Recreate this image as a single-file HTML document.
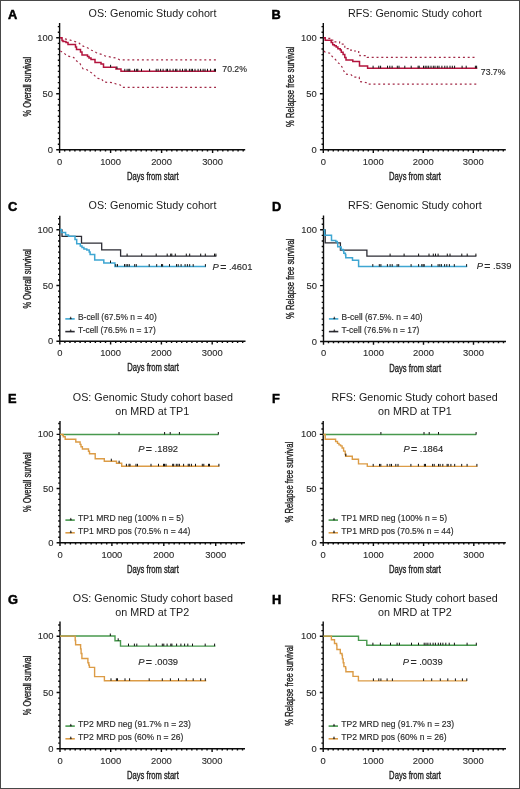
<!DOCTYPE html>
<html><head><meta charset="utf-8"><title>Kaplan-Meier survival: Genomic Study cohort</title>
<style>
html,body{margin:0;padding:0;background:#fff;}
body{width:520px;height:789px;overflow:hidden;}
#fig{position:absolute;left:0;top:0;width:518px;height:787px;border:1px solid #484848;}
svg{position:absolute;left:0;top:0;will-change:transform;font-family:"Liberation Sans", sans-serif;}
</style></head>
<body>
<div id="fig"></div>
<svg width="520" height="789" viewBox="0 0 520 789">
<path d="M59.6 23V153M56.2 149.8H245.2M57.8 144.2H59.6M57.8 138.6H59.6M57.8 133H59.6M57.8 127.4H59.6M57.8 121.8H59.6M57.8 116.2H59.6M57.8 110.6H59.6M57.8 105H59.6M57.8 99.4H59.6M56.2 93.8H59.6M57.8 88.2H59.6M57.8 82.6H59.6M57.8 77H59.6M57.8 71.4H59.6M57.8 65.8H59.6M57.8 60.2H59.6M57.8 54.6H59.6M57.8 49H59.6M57.8 43.4H59.6M56.2 37.8H59.6M57.8 32.2H59.6M57.8 26.6H59.6M64.7 149.8V151.6M69.8 149.8V151.6M74.9 149.8V151.6M80 149.8V151.6M85.1 149.8V151.6M90.2 149.8V151.6M95.3 149.8V151.6M100.4 149.8V151.6M105.5 149.8V151.6M110.6 149.8V153M115.7 149.8V151.6M120.8 149.8V151.6M125.9 149.8V151.6M131 149.8V151.6M136.1 149.8V151.6M141.2 149.8V151.6M146.3 149.8V151.6M151.4 149.8V151.6M156.5 149.8V151.6M161.6 149.8V153M166.7 149.8V151.6M171.8 149.8V151.6M176.9 149.8V151.6M182 149.8V151.6M187.1 149.8V151.6M192.2 149.8V151.6M197.3 149.8V151.6M202.4 149.8V151.6M207.5 149.8V151.6M212.6 149.8V153M217.7 149.8V151.6M222.8 149.8V151.6M227.9 149.8V151.6M233 149.8V151.6M238.1 149.8V151.6M243.2 149.8V151.6" stroke="#0c0c0c" stroke-width="1.4" fill="none"/>
<g font-size="9.4" fill="#2b2b2b" stroke="#2b2b2b" stroke-width="0.12"><text x="53" y="152.8" text-anchor="end">0</text><text x="53" y="96.8" text-anchor="end">50</text><text x="53" y="40.8" text-anchor="end">100</text><text x="59.6" y="164.6" text-anchor="middle">0</text><text x="110.6" y="164.6" text-anchor="middle">1000</text><text x="161.6" y="164.6" text-anchor="middle">2000</text><text x="212.6" y="164.6" text-anchor="middle">3000</text></g>
<text transform="translate(152.8 179.8) scale(0.75 1)" text-anchor="middle" font-size="10.2" fill="#222" stroke="#222" stroke-width="0.35">Days from start</text>
<text transform="translate(30.7 86.7) rotate(-90) scale(0.732 1)" text-anchor="middle" font-size="10.2" fill="#222" stroke="#222" stroke-width="0.35">% Overall survival</text>
<text x="7.9" y="19" font-size="12.8" font-weight="bold" fill="#000" stroke="#000" stroke-width="0.5">A</text>
<text x="152.5" y="16.9" font-size="10.75" text-anchor="middle" fill="#1a1a1a">OS: Genomic Study cohort</text>
<path d="M60.3 37.7L63.7 38.7L67.5 39.5L70.4 40.2L75.2 41.6L79.1 43.1L81.5 45.5L83.9 46.4L86.8 47.4L89.2 48.8L91.6 50.3L94.5 51.2L96.4 52.7L98.3 53.6L102.2 54.6L105 56L116 58L119.8 59.8L216 59.8" stroke="#a32a47" stroke-width="1.2" fill="none" stroke-dasharray="2 2.8"/>
<path d="M60.3 51L61.8 51.7L63.7 52.7L65.6 54.6L67.5 56L71.4 57L73.8 57.5L75.2 59.9L77.6 61.8L79.6 62.8L80.5 64.5L82.9 68.7L86.7 69.6L89.6 71.5L92.5 73.5L94.9 75.9L97.3 78.3L101.6 78.8L103.6 82.1L112.7 82.6L116.1 84L120.4 85L122.3 87.3L216 87.3" stroke="#a32a47" stroke-width="1.2" fill="none" stroke-dasharray="2 2.8"/>
<path d="M60 37.7H62V40.5H63V41.5H66V42.5H68V44.5H75.5V47H76.5V49.5H80.5V52H82V55H87.5V56.5H89V58H91V59.5H95V62.5H101V64H103.5V67.3H116V69H121V71.3H216" stroke="#b3143d" stroke-width="1.5" fill="none"/>
<path d="M110.6 67.3V64.8M117 69V66.5M124.8 71.3V68.8M127.1 71.3V68.8M128.8 71.3V68.8M129.8 71.3V68.8M134.6 71.3V68.8M136.7 71.3V68.8M137.8 71.3V68.8M141.5 71.3V68.8M149.6 71.3V68.8M156.2 71.3V68.8M158.1 71.3V68.8M160.6 71.3V68.8M163.1 71.3V68.8M166.2 71.3V68.8M167.5 71.3V68.8M170 71.3V68.8M173.1 71.3V68.8M175.6 71.3V68.8M176.9 71.3V68.8M180 71.3V68.8M182.5 71.3V68.8M185 71.3V68.8M186.2 71.3V68.8M189.4 71.3V68.8M191.2 71.3V68.8M192.5 71.3V68.8M195 71.3V68.8M198.1 71.3V68.8M200.6 71.3V68.8M203.1 71.3V68.8M205 71.3V68.8M207.5 71.3V68.8M210.6 71.3V68.8M214.4 71.3V68.8M215.5 71.3V68.8" stroke="#111" stroke-width="1.0" fill="none"/>
<text x="222.3" y="71.6" font-size="8.7" text-anchor="start" fill="#2b2b2b" stroke="#2b2b2b" stroke-width="0.15">70.2%</text>
<path d="M323.3 23V153M319.9 149.8H505.8M321.5 144.2H323.3M321.5 138.6H323.3M321.5 133H323.3M321.5 127.4H323.3M321.5 121.8H323.3M321.5 116.2H323.3M321.5 110.6H323.3M321.5 105H323.3M321.5 99.4H323.3M319.9 93.8H323.3M321.5 88.2H323.3M321.5 82.6H323.3M321.5 77H323.3M321.5 71.4H323.3M321.5 65.8H323.3M321.5 60.2H323.3M321.5 54.6H323.3M321.5 49H323.3M321.5 43.4H323.3M319.9 37.8H323.3M321.5 32.2H323.3M321.5 26.6H323.3M328.3 149.8V151.6M333.3 149.8V151.6M338.3 149.8V151.6M343.3 149.8V151.6M348.3 149.8V151.6M353.3 149.8V151.6M358.3 149.8V151.6M363.3 149.8V151.6M368.3 149.8V151.6M373.3 149.8V153M378.3 149.8V151.6M383.3 149.8V151.6M388.3 149.8V151.6M393.3 149.8V151.6M398.3 149.8V151.6M403.3 149.8V151.6M408.3 149.8V151.6M413.3 149.8V151.6M418.3 149.8V151.6M423.3 149.8V153M428.3 149.8V151.6M433.3 149.8V151.6M438.3 149.8V151.6M443.3 149.8V151.6M448.3 149.8V151.6M453.3 149.8V151.6M458.3 149.8V151.6M463.3 149.8V151.6M468.3 149.8V151.6M473.3 149.8V153M478.3 149.8V151.6M483.3 149.8V151.6M488.3 149.8V151.6M493.3 149.8V151.6M498.3 149.8V151.6M503.3 149.8V151.6" stroke="#0c0c0c" stroke-width="1.4" fill="none"/>
<g font-size="9.4" fill="#2b2b2b" stroke="#2b2b2b" stroke-width="0.12"><text x="316.7" y="152.8" text-anchor="end">0</text><text x="316.7" y="96.8" text-anchor="end">50</text><text x="316.7" y="40.8" text-anchor="end">100</text><text x="323.3" y="164.6" text-anchor="middle">0</text><text x="373.3" y="164.6" text-anchor="middle">1000</text><text x="423.3" y="164.6" text-anchor="middle">2000</text><text x="473.3" y="164.6" text-anchor="middle">3000</text></g>
<text transform="translate(414.95 179.8) scale(0.75 1)" text-anchor="middle" font-size="10.2" fill="#222" stroke="#222" stroke-width="0.35">Days from start</text>
<text transform="translate(293.5 86.7) rotate(-90) scale(0.752 1)" text-anchor="middle" font-size="10.2" fill="#222" stroke="#222" stroke-width="0.35">% Relapse free survival</text>
<text x="271.6" y="19" font-size="12.8" font-weight="bold" fill="#000" stroke="#000" stroke-width="0.5">B</text>
<text x="414.9" y="16.9" font-size="10.75" text-anchor="middle" fill="#1a1a1a">RFS: Genomic Study cohort</text>
<path d="M324 37.8H326.9V38.3H331.5V40.1H335V41.8H339.6V43H341.3V44.1H343.1V46.4H344.8V48.7H350V50.2H353.5V51H358.7V52.5H359.8V55.7H366.2V56H367.3V57.3H477.3" stroke="#a32a47" stroke-width="1.2" fill="none" stroke-dasharray="2 2.8"/>
<path d="M324 51L325.2 52.2L330.4 53.3L331.5 55.7L333.8 58L335.6 59.7L337.9 62.6L340.2 64.3L342.5 67.8L343.7 70.7L345.4 74.1L351.2 74.7L352.9 77L359.2 77.2L359.8 81.6L367.3 82.8L367.9 84.2L477.3 84.2" stroke="#a32a47" stroke-width="1.2" fill="none" stroke-dasharray="2 2.8"/>
<path d="M323.6 37.8H325.2V40.2H331.2V42.4H332.7V44.7H334.4V45.8H336.2V47H337.9V48.7H340.2V49.9H341.3V52.2H343.1V54.5H344.8V57.4H346V59.9H352.8V61.6H359.5V66H367.6V68.2H477.3" stroke="#b3143d" stroke-width="1.5" fill="none"/>
<path d="M373.1 68.2V65.7M378.8 68.2V65.7M380.6 68.2V65.7M387.5 68.2V65.7M389.8 68.2V65.7M392.1 68.2V65.7M397.3 68.2V65.7M399 68.2V65.7M404.8 68.2V65.7M411.2 68.2V65.7M418.1 68.2V65.7M419.2 68.2V65.7M423.5 68.2V65.7M425.2 68.2V65.7M426.9 68.2V65.7M428.7 68.2V65.7M431 68.2V65.7M433.3 68.2V65.7M435 68.2V65.7M437.3 68.2V65.7M439 68.2V65.7M441.9 68.2V65.7M444.8 68.2V65.7M447.1 68.2V65.7M450 68.2V65.7M452.3 68.2V65.7M454.6 68.2V65.7M462.1 68.2V65.7M466.2 68.2V65.7M475.4 68.2V65.7M476.6 68.2V65.7" stroke="#111" stroke-width="1.0" fill="none"/>
<text x="480.8" y="74.8" font-size="8.7" text-anchor="start" fill="#2b2b2b" stroke="#2b2b2b" stroke-width="0.15">73.7%</text>
<path d="M59.8 215.7V344.5M56.4 341.3H245.5M58 335.73H59.8M58 330.15H59.8M58 324.57H59.8M58 319H59.8M58 313.43H59.8M58 307.85H59.8M58 302.28H59.8M58 296.7H59.8M58 291.12H59.8M56.4 285.55H59.8M58 279.98H59.8M58 274.4H59.8M58 268.83H59.8M58 263.25H59.8M58 257.68H59.8M58 252.1H59.8M58 246.53H59.8M58 240.95H59.8M58 235.38H59.8M56.4 229.8H59.8M58 224.23H59.8M58 218.65H59.8M64.88 341.3V343.1M69.96 341.3V343.1M75.04 341.3V343.1M80.12 341.3V343.1M85.2 341.3V343.1M90.28 341.3V343.1M95.36 341.3V343.1M100.44 341.3V343.1M105.52 341.3V343.1M110.6 341.3V344.5M115.68 341.3V343.1M120.76 341.3V343.1M125.84 341.3V343.1M130.92 341.3V343.1M136 341.3V343.1M141.08 341.3V343.1M146.16 341.3V343.1M151.24 341.3V343.1M156.32 341.3V343.1M161.4 341.3V344.5M166.48 341.3V343.1M171.56 341.3V343.1M176.64 341.3V343.1M181.72 341.3V343.1M186.8 341.3V343.1M191.88 341.3V343.1M196.96 341.3V343.1M202.04 341.3V343.1M207.12 341.3V343.1M212.2 341.3V344.5M217.28 341.3V343.1M222.36 341.3V343.1M227.44 341.3V343.1M232.52 341.3V343.1M237.6 341.3V343.1M242.68 341.3V343.1" stroke="#0c0c0c" stroke-width="1.4" fill="none"/>
<g font-size="9.4" fill="#2b2b2b" stroke="#2b2b2b" stroke-width="0.12"><text x="53.2" y="344.3" text-anchor="end">0</text><text x="53.2" y="288.55" text-anchor="end">50</text><text x="53.2" y="232.8" text-anchor="end">100</text><text x="59.8" y="356.1" text-anchor="middle">0</text><text x="110.6" y="356.1" text-anchor="middle">1000</text><text x="161.4" y="356.1" text-anchor="middle">2000</text><text x="212.2" y="356.1" text-anchor="middle">3000</text></g>
<text transform="translate(153.05 371.3) scale(0.75 1)" text-anchor="middle" font-size="10.2" fill="#222" stroke="#222" stroke-width="0.35">Days from start</text>
<text transform="translate(30.9 278.8) rotate(-90) scale(0.732 1)" text-anchor="middle" font-size="10.2" fill="#222" stroke="#222" stroke-width="0.35">% Overall survival</text>
<text x="8.1" y="211.4" font-size="12.8" font-weight="bold" fill="#000" stroke="#000" stroke-width="0.5">C</text>
<text x="152.5" y="209.1" font-size="10.75" text-anchor="middle" fill="#1a1a1a">OS: Genomic Study cohort</text>
<path d="M60 229.8H62V236.3H81.5V243.2H101.7V249.8H120.6V256.1H216.4" stroke="#2c2c34" stroke-width="1.3" fill="none"/>
<path d="M127.1 256.1V253.6M141.7 256.1V253.6M156.2 256.1V253.6M167.2 256.1V253.6M170.7 256.1V253.6M171.8 256.1V253.6M175.3 256.1V253.6M186.3 256.1V253.6M189.7 256.1V253.6M200.7 256.1V253.6M205.3 256.1V253.6M214.5 256.1V253.6M215.9 256.1V253.6" stroke="#111" stroke-width="1.0" fill="none"/>
<path d="M59.8 229.5H61.3V232.4H65.6V235H68.5V236.2H75V239.4H76.7V243.7H80.3V246.1H82V247.6H83.9V249H86.8V250H89.2V251.9H90.1V254.5H94.7V260H103.8V263H114.9V266.6H206" stroke="#3ea6d2" stroke-width="1.5" fill="none"/>
<path d="M110.5 263V260.5M115.8 266.6V264.1M117.5 266.6V264.1M124.5 266.6V264.1M126.1 266.6V264.1M127.7 266.6V264.1M129.3 266.6V264.1M134.7 266.6V264.1M136.3 266.6V264.1M149.2 266.6V264.1M156.7 266.6V264.1M161.5 266.6V264.1M162.6 266.6V264.1M169.5 266.6V264.1M176.5 266.6V264.1M178.2 266.6V264.1M181.1 266.6V264.1M185.1 266.6V264.1M187.4 266.6V264.1M189.7 266.6V264.1M193.2 266.6V264.1M205.4 266.6V264.1" stroke="#111" stroke-width="1.0" fill="none"/>
<text y="269.8" font-size="9.4" fill="#2b2b2b" stroke="#2b2b2b" stroke-width="0.15"><tspan x="212.6" font-style="italic">P</tspan><tspan x="220.2" font-size="10.6" dy="0.9">=</tspan><tspan x="229" dy="-0.9">.4601</tspan></text>
<path d="M65.3 318.9H74.7" stroke="#3ea6d2" stroke-width="1.6"/>
<path d="M69.9 318.9L70.7 316.7L71.5 318.9Z" fill="#222" stroke="#222" stroke-width="0.4"/>
<text x="78" y="319.9" font-size="8.42" text-anchor="start" fill="#2b2b2b" stroke="#2b2b2b" stroke-width="0.15">B-cell (67.5% n = 40)</text>
<path d="M65.3 331.6H74.7" stroke="#2c2c34" stroke-width="1.6"/>
<path d="M69.9 331.6L70.7 329.4L71.5 331.6Z" fill="#222" stroke="#222" stroke-width="0.4"/>
<text x="78" y="332.6" font-size="8.42" text-anchor="start" fill="#2b2b2b" stroke="#2b2b2b" stroke-width="0.15">T-cell (76.5% n = 17)</text>
<path d="M323.5 215.5V344.7M320.1 341.5H506M321.7 335.92H323.5M321.7 330.33H323.5M321.7 324.75H323.5M321.7 319.16H323.5M321.7 313.57H323.5M321.7 307.99H323.5M321.7 302.4H323.5M321.7 296.82H323.5M321.7 291.24H323.5M320.1 285.65H323.5M321.7 280.06H323.5M321.7 274.48H323.5M321.7 268.89H323.5M321.7 263.31H323.5M321.7 257.73H323.5M321.7 252.14H323.5M321.7 246.56H323.5M321.7 240.97H323.5M321.7 235.38H323.5M320.1 229.8H323.5M321.7 224.22H323.5M321.7 218.63H323.5M328.5 341.5V343.3M333.5 341.5V343.3M338.5 341.5V343.3M343.5 341.5V343.3M348.5 341.5V343.3M353.5 341.5V343.3M358.5 341.5V343.3M363.5 341.5V343.3M368.5 341.5V343.3M373.5 341.5V344.7M378.5 341.5V343.3M383.5 341.5V343.3M388.5 341.5V343.3M393.5 341.5V343.3M398.5 341.5V343.3M403.5 341.5V343.3M408.5 341.5V343.3M413.5 341.5V343.3M418.5 341.5V343.3M423.5 341.5V344.7M428.5 341.5V343.3M433.5 341.5V343.3M438.5 341.5V343.3M443.5 341.5V343.3M448.5 341.5V343.3M453.5 341.5V343.3M458.5 341.5V343.3M463.5 341.5V343.3M468.5 341.5V343.3M473.5 341.5V344.7M478.5 341.5V343.3M483.5 341.5V343.3M488.5 341.5V343.3M493.5 341.5V343.3M498.5 341.5V343.3M503.5 341.5V343.3" stroke="#0c0c0c" stroke-width="1.4" fill="none"/>
<g font-size="9.4" fill="#2b2b2b" stroke="#2b2b2b" stroke-width="0.12"><text x="316.9" y="344.5" text-anchor="end">0</text><text x="316.9" y="288.65" text-anchor="end">50</text><text x="316.9" y="232.8" text-anchor="end">100</text><text x="323.5" y="356.3" text-anchor="middle">0</text><text x="373.5" y="356.3" text-anchor="middle">1000</text><text x="423.5" y="356.3" text-anchor="middle">2000</text><text x="473.5" y="356.3" text-anchor="middle">3000</text></g>
<text transform="translate(415.15 371.5) scale(0.75 1)" text-anchor="middle" font-size="10.2" fill="#222" stroke="#222" stroke-width="0.35">Days from start</text>
<text transform="translate(293.7 278.8) rotate(-90) scale(0.752 1)" text-anchor="middle" font-size="10.2" fill="#222" stroke="#222" stroke-width="0.35">% Relapse free survival</text>
<text x="271.9" y="211.4" font-size="12.8" font-weight="bold" fill="#000" stroke="#000" stroke-width="0.5">D</text>
<text x="414.9" y="209.1" font-size="10.75" text-anchor="middle" fill="#1a1a1a">RFS: Genomic Study cohort</text>
<path d="M323.5 229.8H325.2V242.9H340.4V250.1H366.9V256.1H476.4" stroke="#2c2c34" stroke-width="1.3" fill="none"/>
<path d="M390.1 256.1V253.6M404.1 256.1V253.6M418.6 256.1V253.6M429 256.1V253.6M433.3 256.1V253.6M435.5 256.1V253.6M438.1 256.1V253.6M447.3 256.1V253.6M450 256.1V253.6M461.8 256.1V253.6M467.2 256.1V253.6M475.9 256.1V253.6" stroke="#111" stroke-width="1.0" fill="none"/>
<path d="M323.5 229.9H324.6V235.2H331.5V240.5H335.8V241.5H337.3V242.8H337.7V246.7H340.8V247.5H341.2V249.4H343.1V250.6H343.8V253.2H345.4V254.8H345.8V257.8H352.5V260.3H358.6V266.6H467.2" stroke="#3ea6d2" stroke-width="1.5" fill="none"/>
<path d="M372.8 266.6V264.1M379.3 266.6V264.1M380.9 266.6V264.1M387.4 266.6V264.1M390.1 266.6V264.1M392.2 266.6V264.1M397.1 266.6V264.1M398.7 266.6V264.1M411.1 266.6V264.1M418.6 266.6V264.1M421.8 266.6V264.1M423.1 266.6V264.1M424.2 266.6V264.1M431.7 266.6V264.1M438.1 266.6V264.1M439.8 266.6V264.1M441.4 266.6V264.1M444.6 266.6V264.1M446.8 266.6V264.1M449.4 266.6V264.1M454.3 266.6V264.1M466.6 266.6V264.1" stroke="#111" stroke-width="1.0" fill="none"/>
<text y="268.6" font-size="9.4" fill="#2b2b2b" stroke="#2b2b2b" stroke-width="0.15"><tspan x="476.7" font-style="italic">P</tspan><tspan x="484.3" font-size="10.6" dy="0.9">=</tspan><tspan x="493.1" dy="-0.9">.539</tspan></text>
<path d="M328.9 318.9H338.3" stroke="#3ea6d2" stroke-width="1.6"/>
<path d="M333.5 318.9L334.3 316.7L335.1 318.9Z" fill="#222" stroke="#222" stroke-width="0.4"/>
<text x="341.6" y="319.9" font-size="8.42" text-anchor="start" fill="#2b2b2b" stroke="#2b2b2b" stroke-width="0.15">B-cell (67.5%. n = 40)</text>
<path d="M328.9 331.6H338.3" stroke="#2c2c34" stroke-width="1.6"/>
<path d="M333.5 331.6L334.3 329.4L335.1 331.6Z" fill="#222" stroke="#222" stroke-width="0.4"/>
<text x="341.6" y="332.6" font-size="8.42" text-anchor="start" fill="#2b2b2b" stroke="#2b2b2b" stroke-width="0.15">T-cell (76.5% n = 17)</text>
<path d="M60 421V545.9M56.6 542.7H245M58.2 537.29H60M58.2 531.87H60M58.2 526.46H60M58.2 521.04H60M58.2 515.62H60M58.2 510.21H60M58.2 504.8H60M58.2 499.38H60M58.2 493.97H60M56.6 488.55H60M58.2 483.14H60M58.2 477.72H60M58.2 472.31H60M58.2 466.89H60M58.2 461.48H60M58.2 456.06H60M58.2 450.65H60M58.2 445.23H60M58.2 439.82H60M56.6 434.4H60M58.2 428.99H60M58.2 423.57H60M65.19 542.7V544.5M70.38 542.7V544.5M75.57 542.7V544.5M80.76 542.7V544.5M85.95 542.7V544.5M91.14 542.7V544.5M96.33 542.7V544.5M101.52 542.7V544.5M106.71 542.7V544.5M111.9 542.7V545.9M117.09 542.7V544.5M122.28 542.7V544.5M127.47 542.7V544.5M132.66 542.7V544.5M137.85 542.7V544.5M143.04 542.7V544.5M148.23 542.7V544.5M153.42 542.7V544.5M158.61 542.7V544.5M163.8 542.7V545.9M168.99 542.7V544.5M174.18 542.7V544.5M179.37 542.7V544.5M184.56 542.7V544.5M189.75 542.7V544.5M194.94 542.7V544.5M200.13 542.7V544.5M205.32 542.7V544.5M210.51 542.7V544.5M215.7 542.7V545.9M220.89 542.7V544.5M226.08 542.7V544.5M231.27 542.7V544.5M236.46 542.7V544.5M241.65 542.7V544.5" stroke="#0c0c0c" stroke-width="1.4" fill="none"/>
<g font-size="9.4" fill="#2b2b2b" stroke="#2b2b2b" stroke-width="0.12"><text x="53.4" y="545.7" text-anchor="end">0</text><text x="53.4" y="491.55" text-anchor="end">50</text><text x="53.4" y="437.4" text-anchor="end">100</text><text x="60" y="557.5" text-anchor="middle">0</text><text x="111.9" y="557.5" text-anchor="middle">1000</text><text x="163.8" y="557.5" text-anchor="middle">2000</text><text x="215.7" y="557.5" text-anchor="middle">3000</text></g>
<text transform="translate(152.9 572.7) scale(0.75 1)" text-anchor="middle" font-size="10.2" fill="#222" stroke="#222" stroke-width="0.35">Days from start</text>
<text transform="translate(31.1 482.15) rotate(-90) scale(0.732 1)" text-anchor="middle" font-size="10.2" fill="#222" stroke="#222" stroke-width="0.35">% Overall survival</text>
<text x="8.1" y="402.8" font-size="12.8" font-weight="bold" fill="#000" stroke="#000" stroke-width="0.5">E</text>
<text x="152.9" y="401.3" font-size="10.75" text-anchor="middle" fill="#1a1a1a">OS: Genomic Study cohort based</text>
<text x="152.2" y="414.9" font-size="10.75" text-anchor="middle" fill="#1a1a1a">on MRD at TP1</text>
<path d="M60.2 434.5H218.5" stroke="#48994e" stroke-width="1.4" fill="none"/>
<path d="M119 434.5V432M164.6 434.5V432M170.2 434.5V432M179.4 434.5V432M218.3 434.5V432" stroke="#111" stroke-width="1.0" fill="none"/>
<path d="M60 434.4H62.8V435.3H63.3V436.7H65.2V439.2H75.8V442H80.1V444.4H81V446.8H82.4V449H88.5V451.2H89.5V453.8H95.2V458.8H104.3V461.2H116.5V463.2H121.7V466.3H219.4" stroke="#dc9c46" stroke-width="1.4" fill="none"/>
<path d="M111.3 461.2V458.7M119.1 463.2V460.7M126.4 466.3V463.8M129 466.3V463.8M130 466.3V463.8M136 466.3V463.8M137.5 466.3V463.8M151 466.3V463.8M158.5 466.3V463.8M163.5 466.3V463.8M164.5 466.3V463.8M166 466.3V463.8M172.7 466.3V463.8M173.7 466.3V463.8M176.3 466.3V463.8M177.9 466.3V463.8M179.4 466.3V463.8M183.6 466.3V463.8M188.2 466.3V463.8M189.3 466.3V463.8M191.4 466.3V463.8M195.5 466.3V463.8M202.3 466.3V463.8M203.8 466.3V463.8M208.5 466.3V463.8M209.5 466.3V463.8M218.9 466.3V463.8" stroke="#111" stroke-width="1.0" fill="none"/>
<text y="452.4" font-size="9.4" fill="#2b2b2b" stroke="#2b2b2b" stroke-width="0.15"><tspan x="138.2" font-style="italic">P</tspan><tspan x="145.8" font-size="10.6" dy="0.9">=</tspan><tspan x="154.6" dy="-0.9">.1892</tspan></text>
<path d="M65.4 520.1H74.8" stroke="#48994e" stroke-width="1.6"/>
<path d="M70 520.1L70.8 517.9L71.6 520.1Z" fill="#222" stroke="#222" stroke-width="0.4"/>
<text x="78.1" y="521.1" font-size="8.55" text-anchor="start" fill="#2b2b2b" stroke="#2b2b2b" stroke-width="0.15">TP1 MRD neg (100% n = 5)</text>
<path d="M65.4 532.8H74.8" stroke="#dc9c46" stroke-width="1.6"/>
<path d="M70 532.8L70.8 530.6L71.6 532.8Z" fill="#222" stroke="#222" stroke-width="0.4"/>
<text x="78.1" y="533.8" font-size="8.55" text-anchor="start" fill="#2b2b2b" stroke="#2b2b2b" stroke-width="0.15">TP1 MRD pos (70.5% n = 44)</text>
<path d="M323.2 421V545.9M319.8 542.7H505.8M321.4 537.29H323.2M321.4 531.87H323.2M321.4 526.46H323.2M321.4 521.04H323.2M321.4 515.62H323.2M321.4 510.21H323.2M321.4 504.8H323.2M321.4 499.38H323.2M321.4 493.97H323.2M319.8 488.55H323.2M321.4 483.14H323.2M321.4 477.72H323.2M321.4 472.31H323.2M321.4 466.89H323.2M321.4 461.48H323.2M321.4 456.06H323.2M321.4 450.65H323.2M321.4 445.23H323.2M321.4 439.82H323.2M319.8 434.4H323.2M321.4 428.99H323.2M321.4 423.57H323.2M328.22 542.7V544.5M333.24 542.7V544.5M338.26 542.7V544.5M343.28 542.7V544.5M348.3 542.7V544.5M353.32 542.7V544.5M358.34 542.7V544.5M363.36 542.7V544.5M368.38 542.7V544.5M373.4 542.7V545.9M378.42 542.7V544.5M383.44 542.7V544.5M388.46 542.7V544.5M393.48 542.7V544.5M398.5 542.7V544.5M403.52 542.7V544.5M408.54 542.7V544.5M413.56 542.7V544.5M418.58 542.7V544.5M423.6 542.7V545.9M428.62 542.7V544.5M433.64 542.7V544.5M438.66 542.7V544.5M443.68 542.7V544.5M448.7 542.7V544.5M453.72 542.7V544.5M458.74 542.7V544.5M463.76 542.7V544.5M468.78 542.7V544.5M473.8 542.7V545.9M478.82 542.7V544.5M483.84 542.7V544.5M488.86 542.7V544.5M493.88 542.7V544.5M498.9 542.7V544.5M503.92 542.7V544.5" stroke="#0c0c0c" stroke-width="1.4" fill="none"/>
<g font-size="9.4" fill="#2b2b2b" stroke="#2b2b2b" stroke-width="0.12"><text x="316.6" y="545.7" text-anchor="end">0</text><text x="316.6" y="491.55" text-anchor="end">50</text><text x="316.6" y="437.4" text-anchor="end">100</text><text x="323.2" y="557.5" text-anchor="middle">0</text><text x="373.4" y="557.5" text-anchor="middle">1000</text><text x="423.6" y="557.5" text-anchor="middle">2000</text><text x="473.8" y="557.5" text-anchor="middle">3000</text></g>
<text transform="translate(414.9 572.7) scale(0.75 1)" text-anchor="middle" font-size="10.2" fill="#222" stroke="#222" stroke-width="0.35">Days from start</text>
<text transform="translate(293.4 482.15) rotate(-90) scale(0.752 1)" text-anchor="middle" font-size="10.2" fill="#222" stroke="#222" stroke-width="0.35">% Relapse free survival</text>
<text x="271.9" y="402.8" font-size="12.8" font-weight="bold" fill="#000" stroke="#000" stroke-width="0.5">F</text>
<text x="414.6" y="401.3" font-size="10.75" text-anchor="middle" fill="#1a1a1a">RFS: Genomic Study cohort based</text>
<text x="414.9" y="414.9" font-size="10.75" text-anchor="middle" fill="#1a1a1a">on MRD at TP1</text>
<path d="M323.5 434.5H476.3" stroke="#48994e" stroke-width="1.4" fill="none"/>
<path d="M380.9 434.5V432M424 434.5V432M429.2 434.5V432M438.5 434.5V432M476.1 434.5V432" stroke="#111" stroke-width="1.0" fill="none"/>
<path d="M323.4 434.5H325.2V439.2H335.6V441.5H337.5V443.4H339V444.9H340.6V445.9H342.1V448H343.6V451.1H345.2V454.2H345.6V456.2H352.3V459.3H358.5V463.9H367.3V466.4H477.5" stroke="#dc9c46" stroke-width="1.4" fill="none"/>
<path d="M345.8 456.2V453.7M373.2 466.4V463.9M379.5 466.4V463.9M380.8 466.4V463.9M387.2 466.4V463.9M389.9 466.4V463.9M391.5 466.4V463.9M395.8 466.4V463.9M398 466.4V463.9M410.9 466.4V463.9M418.4 466.4V463.9M424.4 466.4V463.9M425.5 466.4V463.9M432.6 466.4V463.9M434.2 466.4V463.9M438.5 466.4V463.9M440.1 466.4V463.9M442.8 466.4V463.9M447.1 466.4V463.9M448.2 466.4V463.9M450.9 466.4V463.9M454.7 466.4V463.9M461.7 466.4V463.9M467.1 466.4V463.9M476.9 466.4V463.9" stroke="#111" stroke-width="1.0" fill="none"/>
<text y="452.4" font-size="9.4" fill="#2b2b2b" stroke="#2b2b2b" stroke-width="0.15"><tspan x="403.4" font-style="italic">P</tspan><tspan x="411" font-size="10.6" dy="0.9">=</tspan><tspan x="419.8" dy="-0.9">.1864</tspan></text>
<path d="M328.6 520.1H338" stroke="#48994e" stroke-width="1.6"/>
<path d="M333.2 520.1L334 517.9L334.8 520.1Z" fill="#222" stroke="#222" stroke-width="0.4"/>
<text x="341.3" y="521.1" font-size="8.55" text-anchor="start" fill="#2b2b2b" stroke="#2b2b2b" stroke-width="0.15">TP1 MRD neg (100% n = 5)</text>
<path d="M328.6 532.8H338" stroke="#dc9c46" stroke-width="1.6"/>
<path d="M333.2 532.8L334 530.6L334.8 532.8Z" fill="#222" stroke="#222" stroke-width="0.4"/>
<text x="341.3" y="533.8" font-size="8.55" text-anchor="start" fill="#2b2b2b" stroke="#2b2b2b" stroke-width="0.15">TP1 MRD pos (70.5% n = 44)</text>
<path d="M60 621.5V752M56.6 748.8H245M58.2 743.17H60M58.2 737.55H60M58.2 731.92H60M58.2 726.3H60M58.2 720.67H60M58.2 715.05H60M58.2 709.42H60M58.2 703.8H60M58.2 698.17H60M56.6 692.55H60M58.2 686.92H60M58.2 681.3H60M58.2 675.67H60M58.2 670.05H60M58.2 664.42H60M58.2 658.8H60M58.2 653.17H60M58.2 647.55H60M58.2 641.92H60M56.6 636.3H60M58.2 630.67H60M58.2 625.05H60M65.07 748.8V750.6M70.14 748.8V750.6M75.21 748.8V750.6M80.28 748.8V750.6M85.35 748.8V750.6M90.42 748.8V750.6M95.49 748.8V750.6M100.56 748.8V750.6M105.63 748.8V750.6M110.7 748.8V752M115.77 748.8V750.6M120.84 748.8V750.6M125.91 748.8V750.6M130.98 748.8V750.6M136.05 748.8V750.6M141.12 748.8V750.6M146.19 748.8V750.6M151.26 748.8V750.6M156.33 748.8V750.6M161.4 748.8V752M166.47 748.8V750.6M171.54 748.8V750.6M176.61 748.8V750.6M181.68 748.8V750.6M186.75 748.8V750.6M191.82 748.8V750.6M196.89 748.8V750.6M201.96 748.8V750.6M207.03 748.8V750.6M212.1 748.8V752M217.17 748.8V750.6M222.24 748.8V750.6M227.31 748.8V750.6M232.38 748.8V750.6M237.45 748.8V750.6M242.52 748.8V750.6" stroke="#0c0c0c" stroke-width="1.4" fill="none"/>
<g font-size="9.4" fill="#2b2b2b" stroke="#2b2b2b" stroke-width="0.12"><text x="53.4" y="751.8" text-anchor="end">0</text><text x="53.4" y="695.55" text-anchor="end">50</text><text x="53.4" y="639.3" text-anchor="end">100</text><text x="60" y="763.6" text-anchor="middle">0</text><text x="110.7" y="763.6" text-anchor="middle">1000</text><text x="161.4" y="763.6" text-anchor="middle">2000</text><text x="212.1" y="763.6" text-anchor="middle">3000</text></g>
<text transform="translate(152.9 778.8) scale(0.75 1)" text-anchor="middle" font-size="10.2" fill="#222" stroke="#222" stroke-width="0.35">Days from start</text>
<text transform="translate(31.1 685.45) rotate(-90) scale(0.732 1)" text-anchor="middle" font-size="10.2" fill="#222" stroke="#222" stroke-width="0.35">% Overall survival</text>
<text x="8.1" y="604.4" font-size="12.8" font-weight="bold" fill="#000" stroke="#000" stroke-width="0.5">G</text>
<text x="152.9" y="602.2" font-size="10.75" text-anchor="middle" fill="#1a1a1a">OS: Genomic Study cohort based</text>
<text x="152.2" y="615.9" font-size="10.75" text-anchor="middle" fill="#1a1a1a">on MRD at TP2</text>
<path d="M60.2 636H115V640.8H120.5V646.1H215.4" stroke="#48994e" stroke-width="1.4" fill="none"/>
<path d="M110.3 636V633.5M118.2 640.8V638.3M128.5 646.1V643.6M134.4 646.1V643.6M136.8 646.1V643.6M148.8 646.1V643.6M156.3 646.1V643.6M162.3 646.1V643.6M163.8 646.1V643.6M167.1 646.1V643.6M170.8 646.1V643.6M171.9 646.1V643.6M176.6 646.1V643.6M180.9 646.1V643.6M184.6 646.1V643.6M187.8 646.1V643.6M192.5 646.1V643.6M205.2 646.1V643.6M214.6 646.1V643.6" stroke="#111" stroke-width="1.0" fill="none"/>
<path d="M60 636.1H75.2V640.5H75.6V644.7H80.6V648.9H81.1V653.5H81.9V658.5H87.9V662.8H88.8V665.1H89.4V667.4H94.6V676.6H104.4V680.8H206.2" stroke="#dc9c46" stroke-width="1.4" fill="none"/>
<path d="M111 680.8V678.3M116.4 680.8V678.3M117.5 680.8V678.3M125 680.8V678.3M129.6 680.8V678.3M149.2 680.8V678.3M162.3 680.8V678.3M170.4 680.8V678.3M178.5 680.8V678.3M186.2 680.8V678.3M193.2 680.8V678.3M200.7 680.8V678.3M205.3 680.8V678.3" stroke="#111" stroke-width="1.0" fill="none"/>
<text y="665" font-size="9.4" fill="#2b2b2b" stroke="#2b2b2b" stroke-width="0.15"><tspan x="138.2" font-style="italic">P</tspan><tspan x="145.8" font-size="10.6" dy="0.9">=</tspan><tspan x="154.6" dy="-0.9">.0039</tspan></text>
<path d="M65.4 726.1H74.8" stroke="#48994e" stroke-width="1.6"/>
<path d="M70 726.1L70.8 723.9L71.6 726.1Z" fill="#222" stroke="#222" stroke-width="0.4"/>
<text x="78.1" y="727.1" font-size="8.55" text-anchor="start" fill="#2b2b2b" stroke="#2b2b2b" stroke-width="0.15">TP2 MRD neg (91.7% n = 23)</text>
<path d="M65.4 738.8H74.8" stroke="#dc9c46" stroke-width="1.6"/>
<path d="M70 738.8L70.8 736.6L71.6 738.8Z" fill="#222" stroke="#222" stroke-width="0.4"/>
<text x="78.1" y="739.8" font-size="8.55" text-anchor="start" fill="#2b2b2b" stroke="#2b2b2b" stroke-width="0.15">TP2 MRD pos (60% n = 26)</text>
<path d="M323.2 621.5V752M319.8 748.8H506M321.4 743.17H323.2M321.4 737.55H323.2M321.4 731.92H323.2M321.4 726.3H323.2M321.4 720.67H323.2M321.4 715.05H323.2M321.4 709.42H323.2M321.4 703.8H323.2M321.4 698.17H323.2M319.8 692.55H323.2M321.4 686.92H323.2M321.4 681.3H323.2M321.4 675.67H323.2M321.4 670.05H323.2M321.4 664.42H323.2M321.4 658.8H323.2M321.4 653.17H323.2M321.4 647.55H323.2M321.4 641.92H323.2M319.8 636.3H323.2M321.4 630.67H323.2M321.4 625.05H323.2M328.2 748.8V750.6M333.2 748.8V750.6M338.2 748.8V750.6M343.2 748.8V750.6M348.2 748.8V750.6M353.2 748.8V750.6M358.2 748.8V750.6M363.2 748.8V750.6M368.2 748.8V750.6M373.2 748.8V752M378.2 748.8V750.6M383.2 748.8V750.6M388.2 748.8V750.6M393.2 748.8V750.6M398.2 748.8V750.6M403.2 748.8V750.6M408.2 748.8V750.6M413.2 748.8V750.6M418.2 748.8V750.6M423.2 748.8V752M428.2 748.8V750.6M433.2 748.8V750.6M438.2 748.8V750.6M443.2 748.8V750.6M448.2 748.8V750.6M453.2 748.8V750.6M458.2 748.8V750.6M463.2 748.8V750.6M468.2 748.8V750.6M473.2 748.8V752M478.2 748.8V750.6M483.2 748.8V750.6M488.2 748.8V750.6M493.2 748.8V750.6M498.2 748.8V750.6M503.2 748.8V750.6" stroke="#0c0c0c" stroke-width="1.4" fill="none"/>
<g font-size="9.4" fill="#2b2b2b" stroke="#2b2b2b" stroke-width="0.12"><text x="316.6" y="751.8" text-anchor="end">0</text><text x="316.6" y="695.55" text-anchor="end">50</text><text x="316.6" y="639.3" text-anchor="end">100</text><text x="323.2" y="763.6" text-anchor="middle">0</text><text x="373.2" y="763.6" text-anchor="middle">1000</text><text x="423.2" y="763.6" text-anchor="middle">2000</text><text x="473.2" y="763.6" text-anchor="middle">3000</text></g>
<text transform="translate(415 778.8) scale(0.75 1)" text-anchor="middle" font-size="10.2" fill="#222" stroke="#222" stroke-width="0.35">Days from start</text>
<text transform="translate(293.4 685.45) rotate(-90) scale(0.752 1)" text-anchor="middle" font-size="10.2" fill="#222" stroke="#222" stroke-width="0.35">% Relapse free survival</text>
<text x="271.9" y="604.4" font-size="12.8" font-weight="bold" fill="#000" stroke="#000" stroke-width="0.5">H</text>
<text x="414.6" y="602.2" font-size="10.75" text-anchor="middle" fill="#1a1a1a">RFS: Genomic Study cohort based</text>
<text x="414.9" y="615.9" font-size="10.75" text-anchor="middle" fill="#1a1a1a">on MRD at TP2</text>
<path d="M323.5 636.2H358.5V640.4H366.8V645.2H476.9" stroke="#48994e" stroke-width="1.4" fill="none"/>
<path d="M372.9 645.2V642.7M380.4 645.2V642.7M390.5 645.2V642.7M397.1 645.2V642.7M399.4 645.2V642.7M411.5 645.2V642.7M418.5 645.2V642.7M424.2 645.2V642.7M426 645.2V642.7M427.9 645.2V642.7M430.2 645.2V642.7M433.1 645.2V642.7M435.4 645.2V642.7M438.3 645.2V642.7M440.6 645.2V642.7M442.9 645.2V642.7M445.8 645.2V642.7M449.2 645.2V642.7M454.4 645.2V642.7M467.1 645.2V642.7M476.3 645.2V642.7" stroke="#111" stroke-width="1.0" fill="none"/>
<path d="M323.5 636.1H331.4V639.7H334.5V643.5H336.6V645.1H336.9V649.5H340.3V653.5H342V655.1H342.4V658.9H343.2V662.8H343.9V666.6H345.6V668.2H345.9V671.8H353V676.4H358.4V680.9H467.1" stroke="#dc9c46" stroke-width="1.4" fill="none"/>
<path d="M373.4 680.9V678.4M378.8 680.9V678.4M380.9 680.9V678.4M387.1 680.9V678.4M392.4 680.9V678.4M423.6 680.9V678.4M431.7 680.9V678.4M440.3 680.9V678.4M447.8 680.9V678.4M455.4 680.9V678.4M462.4 680.9V678.4M466.8 680.9V678.4" stroke="#111" stroke-width="1.0" fill="none"/>
<text y="665" font-size="9.4" fill="#2b2b2b" stroke="#2b2b2b" stroke-width="0.15"><tspan x="402.8" font-style="italic">P</tspan><tspan x="410.4" font-size="10.6" dy="0.9">=</tspan><tspan x="419.2" dy="-0.9">.0039</tspan></text>
<path d="M328.6 726.1H338" stroke="#48994e" stroke-width="1.6"/>
<path d="M333.2 726.1L334 723.9L334.8 726.1Z" fill="#222" stroke="#222" stroke-width="0.4"/>
<text x="341.3" y="727.1" font-size="8.55" text-anchor="start" fill="#2b2b2b" stroke="#2b2b2b" stroke-width="0.15">TP2 MRD neg (91.7% n = 23)</text>
<path d="M328.6 738.8H338" stroke="#dc9c46" stroke-width="1.6"/>
<path d="M333.2 738.8L334 736.6L334.8 738.8Z" fill="#222" stroke="#222" stroke-width="0.4"/>
<text x="341.3" y="739.8" font-size="8.55" text-anchor="start" fill="#2b2b2b" stroke="#2b2b2b" stroke-width="0.15">TP2 MRD pos (60% n = 26)</text>
</svg>
</body></html>
